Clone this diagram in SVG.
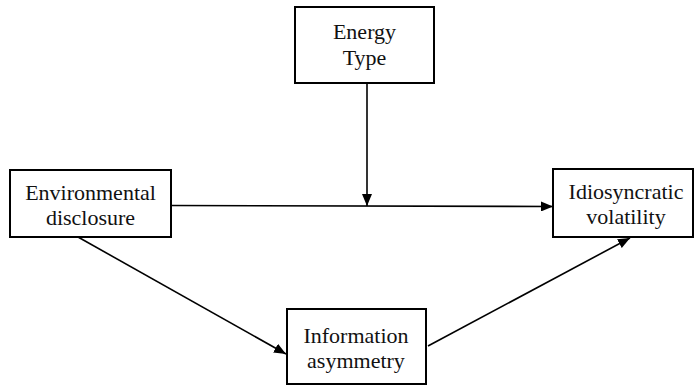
<svg xmlns="http://www.w3.org/2000/svg" width="694" height="386" viewBox="0 0 694 386">
<defs>
<marker id="arr" markerWidth="12" markerHeight="10" refX="12" refY="5" orient="auto" markerUnits="userSpaceOnUse">
<path d="M0,0 L12,5 L0,10 Z" fill="#000"/>
</marker>
<style>
.box{fill:#fff;stroke:#000;stroke-width:2}
.t{font-size:22px;fill:#111;text-anchor:middle}
.c{stroke:#000;stroke-width:1.6;fill:none}
</style>
</defs>
<rect width="694" height="386" fill="#fff"/>
<g id="connectors">
<line class="c" x1="367" y1="83" x2="367" y2="206" marker-end="url(#arr)"/>
<line class="c" x1="171" y1="205.5" x2="553" y2="206.5" marker-end="url(#arr)"/>
<line class="c" x1="78" y1="237" x2="286" y2="354" marker-end="url(#arr)"/>
<line class="c" x1="428" y1="346" x2="630" y2="238" marker-end="url(#arr)"/>
</g>
<g id="energy" font-family="Times New Roman">
<rect class="box" x="295" y="7" width="139" height="76"/>
<text class="t" font-family="Times New Roman" x="364.5" y="39">Energy</text>
<text class="t" font-family="Times New Roman" x="364.5" y="65">Type</text>
</g>
<g id="env">
<rect class="box" x="10" y="170" width="161" height="67"/>
<text class="t" font-family="Times New Roman" x="90.5" y="200">Environmental</text>
<text class="t" font-family="Times New Roman" x="90.5" y="225">disclosure</text>
</g>
<g id="idio">
<rect class="box" x="553" y="169" width="140" height="68"/>
<text class="t" font-family="Times New Roman" x="626" y="199">Idiosyncratic</text>
<text class="t" font-family="Times New Roman" x="626" y="224">volatility</text>
</g>
<g id="info">
<rect class="box" x="287" y="309" width="139" height="75"/>
<text class="t" font-family="Times New Roman" x="356" y="343">Information</text>
<text class="t" font-family="Times New Roman" x="356" y="368">asymmetry</text>
</g>
</svg>
